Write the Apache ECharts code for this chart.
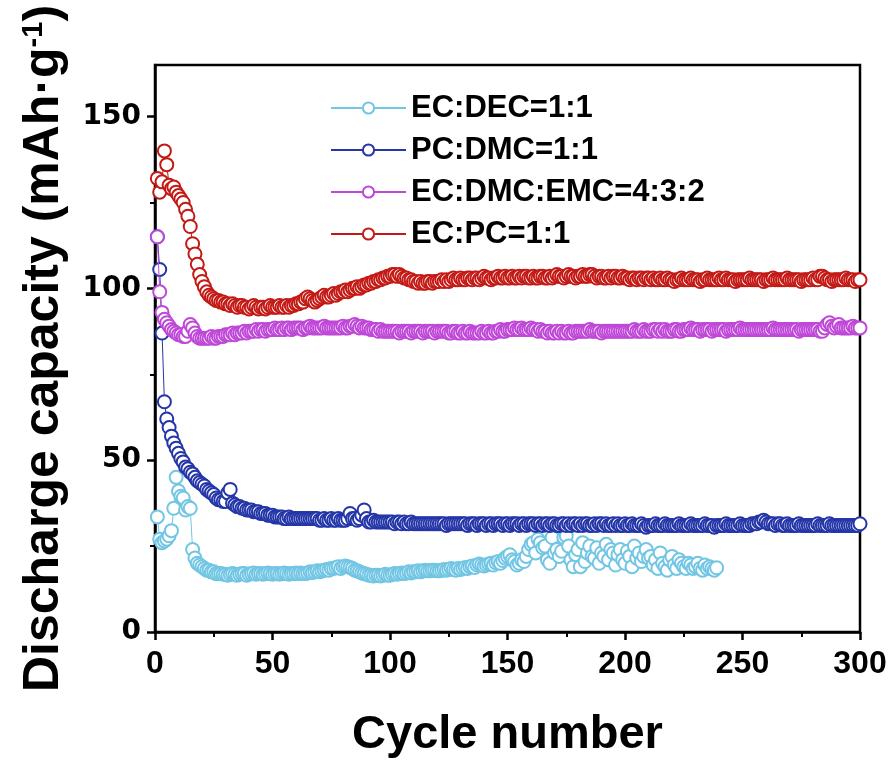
<!DOCTYPE html>
<html><head><meta charset="utf-8">
<script src="https://cdn.jsdelivr.net/npm/echarts@6/dist/echarts.min.js"></script>
<style>html,body{margin:0;padding:0;background:#fff}#c{width:896px;height:765px}</style>
</head><body><div id="c"></div>
<script>
const seriesNames = ['EC:DEC=1:1', 'PC:DMC=1:1', 'EC:DMC:EMC=4:3:2', 'EC:PC=1:1'];
const xTicks = [0, 50, 100, 150, 200, 250, 300];
const yTicks = [0, 50, 100, 150];
const yMinorTicks = [25, 75, 125];

const ecDec = [
33.5,27,26,26.5,27,28,29.5,36,45,41,
39.5,39,35.5,36.5,36,24,21.5,20,19.5,19,
18.5,18,18,17.5,17.5,17,17,17,16.8,16.8,
16.5,16.8,17,16.8,16.5,16.8,17,17,16.5,16.8,
17,17.2,16.8,17,17,16.8,17,17.2,17,16.8,
17,17,16.8,17,17.2,17,16.8,17,17,17.2,
17,17.2,17,17,17.2,17.5,17.3,17.5,17.8,17.5,
17.8,18,18.2,18,18.5,18.5,18.8,19,18.5,19,
19.2,19,18.8,18.5,18,17.8,17.5,17.2,17,16.8,
16.5,16.5,16.3,16.5,16.5,16.3,16.5,16.8,16.5,16.5,
16.8,17,16.8,17,17.2,17,17.2,17.5,17.2,17.5,
17.5,17.8,17.5,17.8,18,17.8,17.8,18,18,17.8,
17.8,18,18.2,18,18.2,18.5,18.2,18,18.5,18.2,
18.5,18.8,18.5,19,19.2,18.8,19.5,19.8,19.5,19.2,
19.5,19.8,20,19.5,20.2,20.5,20,20.8,21.5,22,
22.5,21,20.5,19.5,20,21,20.5,22,24,25.5,
26,23,27,26,24.5,25,21,20,27.5,23,
24,22,23.5,27.5,28,25,21,19,22.5,24,
19,26,20.5,23,25,22,21.5,24.5,20,23,
22,25.5,21,24,23,19.5,22.5,24,21,20,
23.5,22,19,25,21.5,23,20.5,22,24,21.5,
22,19.5,21,18.5,23,20,19,18,21,22,
19.5,18.5,21,20,19,18.5,20,19.5,18.5,19,
20,18.5,18,19.5,18.5,19,18.5,18,18.7
];

const pcDmc = [
115,105.5,87,67,62,59.5,57,55,53.5,52,
50.5,49.5,48,47.5,46.5,46,45,44,43.5,43,
42.5,41.5,41,40.5,40,39,38.5,38.5,38,38,
40.5,41.5,37.5,37,36.5,36.5,36,36,35.5,35.5,
35.5,35,35,35,34.5,34.5,34.5,34,34,34,
33.5,33.5,33.5,33.5,33,33,33.5,33,33,33,
33,33,33,33,33,33,33,33,33,32.5,
32.5,33,32.5,32.5,33,32.5,32.5,33,32.5,32.5,
32.5,33,34.5,33,33,32.5,33,34,35.5,33,
32,32,32.5,32,32,32,32,32,32,32,
32,31.5,32,32,31.5,32,31.5,31.5,32,31.5,
31.5,31.5,31.5,31.5,31.5,31.5,31.5,31.5,31.5,31.5,
31.5,31.5,31.5,31,31.5,31.5,31.5,31.5,31.5,31.5,
31.5,31.5,31,31.5,31.5,31.5,31,31.5,31.5,31.5,
31,31.5,31.5,31,31.5,31.5,31.5,31,31.5,31.5,
31,31.5,31.5,31.5,31,31.5,31.5,31,31.5,31.5,
31.5,31,31.5,31.5,31,31.5,31.5,31,31.5,31.5,
31,31,31.5,31.5,31,31.5,31,31.5,31.5,31,
31.5,31,31.5,31.5,31,31,31.5,31,31.5,31.5,
31,31.5,31,31,31.5,31,31.5,31,31,31.5,
31,31,31.5,31,31,31,31.5,31,30.5,31,
31,31,31.5,31,31,31,31.5,31,31,31,
31,31,31.5,31,31,31,31,31.5,31,31,
31,31,31,31.5,31,31,31,30.5,31,31,
31,31,31.5,31,31,31,31,31,31.5,31,
31,31,31,31.5,31.5,31.5,32,32,32.5,32,
31.5,31.5,31.5,31,31.5,31.5,31,31,31.5,31,
31,31,31,31.5,31,31,31,31,31,31,
31,31.5,31,31,31,31,31.5,31,31,31,
31,31,31,31,31,31,31,31,31,31.5
];

const ecDmcEmc = [
115,99,93,91,90,89,88,87.5,87,86.5,
86.5,86,86,87.5,89.5,88.5,87,86,85.5,85.5,
85.5,85.5,85.5,86,85.5,85.5,86,86,86,86.5,
86.5,86.5,87,86.5,87,87,87,87.5,87,87.5,
87.5,87.5,88,87.5,88,88,87.5,88,88,88,
88.5,88,88,88.5,88,88.5,88.5,88,88.5,88.5,
88.5,88.5,88,88.5,88.5,89,88.5,88.5,88.5,88.5,
88.5,89,88.5,88.5,88.5,88.5,88.5,88.5,88.5,89,
88.5,88.5,89,89,89.5,89,88.5,89,88.5,88.5,
88.5,88,88,88,87.5,88,87.5,87.5,87.5,87.5,
87.5,87.5,87.5,87,87.5,87.5,87.5,87.5,87,87.5,
87.5,87.5,87.5,87,87.5,87.5,87.5,87.5,87,87.5,
87.5,87.5,87.5,87.5,87,87,87.5,87.5,87,87,
87.5,87,87,87.5,87,87,87,87,87.5,87,
87,87.5,87,87,87.5,87.5,88,87.5,87.5,88,
88,88,88.5,88,88,88.5,88,88,88,88.5,
88,88,87.5,88,87.5,87.5,87,87.5,87,87,
87.5,87,87.5,87,87,87.5,87,87,87.5,87.5,
87.5,87.5,87.5,87.5,88,87.5,87.5,87.5,87.5,87,
87.5,87.5,87.5,87.5,87.5,87.5,87.5,87.5,87.5,87.5,
87.5,87.5,87.5,88,87.5,87.5,87.5,88,87.5,87.5,
87.5,88,88,87.5,88,87.5,88,87.5,87.5,87.5,
88,88,87.5,87.5,88,88,88,88.5,88,88,
88,87.5,88,88,88,88,87.5,88,88,88,
88,88,87.5,88,88,88,88,88,88.5,88,
88,88,88,88,88,88,88,88,88,88,
88,88,88.5,88,88,88,88,88,88,88,
88,88,88,87.5,88,88,88,88,88,88,
88,88,87.5,87.5,88.5,89.5,90,89,88.5,89,
89.5,88.5,88.5,88.5,88.5,88.5,89,88.5,88.5,88.5
];

const ecPc = [
132,128,131,140,136,130,129,129.5,128,127,
126,125,123,121,118,113,110,107,104,102,
100.5,99,98,97.5,97,96.5,96.5,96,96,95.5,
95.5,95,95.5,95,94.5,95,95,94.5,94.5,94,
94.5,95,94.5,94,94.5,94.5,94,94.5,95,94.5,
94.5,94.5,95,94.5,94.5,95,94.5,95,95,95.5,
95.5,96,96,97,97.5,97,96.5,96,96.5,97,
97.5,98,97.5,97.5,98,98.5,98,98.5,99,99,
99.5,99,99.5,100,100,100.5,100,100.5,101,101,
101.5,101.5,102,102,102.5,102.5,103,103,103.5,103.5,
104,104,103.5,104,103.5,103,103,102.5,102.5,102,
102,101.5,102,101.5,101.5,102,102,101.5,102,102,
102,102.5,102,102.5,102,102.5,103,102.5,102.5,103,
102.5,102.5,103,103,102.5,103,103,102.5,103,103.5,
103,103,102.5,103,103,103.5,103,103,103.5,103,
103,103.5,103,103,103.5,103,103.5,103.5,103,103,
103.5,103,103,103.5,103.5,103,103,103.5,103,103.5,
104,103.5,103.5,103,103.5,104,103.5,103.5,103,103.5,
103.5,104,103.5,103.5,104,104,103.5,103,103.5,103.5,
103,103,103.5,103,103.5,103.5,103,103,103.5,103,
103,102.5,103,103,102.5,103,103,102.5,103,103,
102.5,103,102.5,102.5,103,102.5,102.5,103,102.5,102.5,
102,102.5,102.5,103,102.5,102.5,102.5,103,102.5,102.5,
102.5,102,102.5,102.5,103,102.5,102.5,102.5,102.5,103,
102.5,102.5,103,102.5,102.5,102.5,102,102.5,102.5,102.5,
102.5,102.5,103,102.5,102.5,102.5,102.5,102.5,102,102.5,
102.5,102.5,103,102.5,102.5,102.5,102.5,102.5,103,102.5,
102.5,102.5,102.5,102.5,102,102.5,102.5,102.5,102.5,103,
102.5,102.5,103.5,103.5,103,102.5,102.5,102,102.5,102.5,
102.5,102.5,102.5,103,102.5,102.5,102.5,102,102.5,102.5
];

const seriesValues = [ecDec, pcDmc, ecDmcEmc, ecPc];
const colors = ['#72c6e4', '#2436a8', '#bf48d8', '#c41a16'];

const FONT = "'Liberation Sans', Arial, sans-serif";

const chart = echarts.init(document.getElementById('c'), null, {renderer: 'canvas'});
const series = seriesNames.map((name, k) => ({
  name: name,
  type: 'line',
  data: seriesValues[k].map((v, i) => [i + 1, v]),
  symbol: 'emptyCircle',
  symbolSize: 13,
  showAllSymbol: true,
  showSymbol: true,
  animation: false,
  lineStyle: {color: colors[k], width: 1},
  itemStyle: {color: colors[k], borderColor: colors[k], borderWidth: 1},
  emphasis: {disabled: true},
  z: 2 + k
}));

chart.setOption({
  backgroundColor: '#fff',
  animation: false,
  grid: {left: 155, right: 36, top: 65, bottom: 133, show: true, borderColor: '#000', borderWidth: 2.5, backgroundColor: 'transparent'},
  legend: {
    orient: 'vertical', left: 325, top: 87,
    itemWidth: 75, itemHeight: 14, itemGap: 10,
    data: seriesNames,
    textStyle: {fontFamily: FONT, fontWeight: 'bold', fontSize: 31, color: '#000', lineHeight: 32},
    selectedMode: false
  },
  xAxis: {
    type: 'value', min: 0, max: 300, interval: 50,
    name: 'Cycle number', nameLocation: 'middle', nameGap: 80,
    nameTextStyle: {fontFamily: FONT, fontWeight: 'bold', fontSize: 47, color: '#000'},
    axisLine: {show: true, lineStyle: {color: '#000', width: 2.5}},
    axisTick: {show: true, inside: false, length: 8, lineStyle: {color: '#000', width: 2.5}},
    minorTick: {show: true, splitNumber: 2, length: 5, lineStyle: {color: '#000', width: 2}},
    axisLabel: {fontFamily: FONT, fontWeight: 'bold', fontSize: 32, color: '#000', margin: 16,
      customValues: xTicks},
    splitLine: {show: false}
  },
  yAxis: [{
    type: 'value', min: 0, max: 165,
    name: 'Discharge capacity (mAh·g{sup|-1})', nameLocation: 'middle', nameGap: 86,
    nameTextStyle: {fontFamily: FONT, fontWeight: 'bold', fontSize: 50, color: '#000',
      rich: {sup: {fontFamily: FONT, fontWeight: 'bold', fontSize: 29, color: '#000', verticalAlign: 'top', padding: [0, 0, 18, 0]}}},
    axisLine: {show: true, lineStyle: {color: '#000', width: 2.5}},
    axisTick: {show: true, inside: false, length: 8, lineStyle: {color: '#000', width: 2.5}, customValues: yTicks},
    axisLabel: {fontFamily: "'DejaVu Sans', sans-serif", fontWeight: 'bold', fontSize: 28, color: '#000', margin: 14,
      customValues: yTicks},
    splitLine: {show: false}
  }, {
    type: 'value', min: 0, max: 165, position: 'left',
    axisLine: {show: false},
    axisTick: {show: true, inside: false, length: 5, lineStyle: {color: '#000', width: 2}, customValues: yMinorTicks},
    axisLabel: {show: false},
    splitLine: {show: false}
  }],
  series: series
});
</script></body></html>
